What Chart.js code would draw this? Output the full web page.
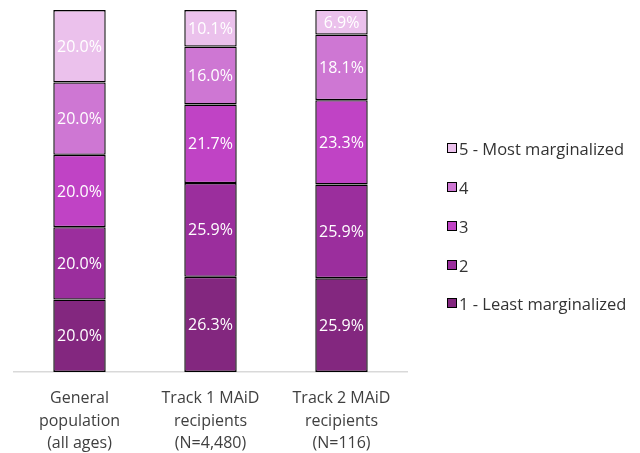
<!DOCTYPE html>
<html>
<head>
<meta charset="utf-8">
<script src="https://cdn.jsdelivr.net/npm/chart.js@4"></script>
<style>
  html, body { margin: 0; padding: 0; background: #fff; }
  #wrap { position: relative; width: 640px; height: 453px; }
  #legend { position: absolute; left: 447px; top: 0; font-family: "Open Sans", Lato, sans-serif; font-size: 16.5px; color: #333; }
  .item { position: absolute; white-space: nowrap; display: flex; align-items: center; height: 20px; }
  .box { width: 8px; height: 8px; border: 1.5px solid #000; margin-right: 2px; }
</style>
</head>
<body>
<div id="wrap">
  <canvas id="c" width="640" height="453"></canvas>
  <div id="legend"></div>
</div>
<script>
const categories = [
  ["General", "population", "(all ages)"],
  ["Track 1 MAiD", "recipients", "(N=4,480)"],
  ["Track 2 MAiD", "recipients", "(N=116)"]
];
const seriesNames = ["1 - Least marginalized", "2", "3", "4", "5 - Most marginalized"];
const q1 = [20.0, 26.3, 25.9];
const q2 = [20.0, 25.9, 25.9];
const q3 = [20.0, 21.7, 23.3];
const q4 = [20.0, 16.0, 18.1];
const q5 = [20.0, 10.1, 6.9];
const colors = ["#83277f", "#9b2e9d", "#c043c5", "#ce77d3", "#ebc1ec"];

const seriesValues = [q1, q2, q3, q4, q5];
const FONT = '"Open Sans", Lato, sans-serif';

const datasets = seriesValues.map((vals, i) => ({
  label: seriesNames[i],
  data: vals,
  backgroundColor: colors[i],
  borderColor: "#000",
  borderWidth: 1.4,
  borderSkipped: false,
  barPercentage: 0.8,
  categoryPercentage: 0.5
}));

const labelPlugin = {
  id: "segLabels",
  afterDatasetsDraw(chart) {
    const ctx = chart.ctx;
    ctx.save();
    ctx.fillStyle = "#fff";
    ctx.font = "16px " + FONT;
    ctx.textAlign = "center";
    ctx.textBaseline = "middle";
    chart.data.datasets.forEach((ds, di) => {
      const meta = chart.getDatasetMeta(di);
      meta.data.forEach((el, j) => {
        const v = ds.data[j];
        const y = (el.y + el.base) / 2;
        ctx.fillText(v.toFixed(1) + "%", el.x, y + 1);
      });
    });
    ctx.restore();
  }
};

const chart = new Chart(document.getElementById("c"), {
  type: "bar",
  data: { labels: categories, datasets },
  options: {
    responsive: false,
    animation: false,
    layout: { padding: { left: 14, right: 233, top: 10, bottom: 0 } },
    plugins: { legend: { display: false }, tooltip: { enabled: false } },
    scales: {
      x: {
        stacked: true,
        grid: { display: false, drawTicks: false },
        border: { display: true, color: "#d9d9d9", width: 1.5 },
        ticks: { color: "#404040", font: { family: FONT, size: 16, lineHeight: 1.42 }, padding: 15, maxRotation: 0 },
        afterFit(scale) { scale.height = 81; }
      },
      y: {
        stacked: true,
        display: false,
        min: 0,
        max: 100
      }
    }
  },
  plugins: [labelPlugin]
});

// HTML legend (reversed order)
const legend = document.getElementById("legend");
const legendY = [148, 187, 226, 265, 303];
for (let k = 0; k < seriesNames.length; k++) {
  const i = seriesNames.length - 1 - k;
  const div = document.createElement("div");
  div.className = "item";
  div.style.top = (legendY[k] - 10) + "px";
  const b = document.createElement("span");
  b.className = "box";
  b.style.background = colors[i];
  const t = document.createElement("span");
  t.textContent = seriesNames[i];
  div.appendChild(b);
  div.appendChild(t);
  legend.appendChild(div);
}
</script>
</body>
</html>
